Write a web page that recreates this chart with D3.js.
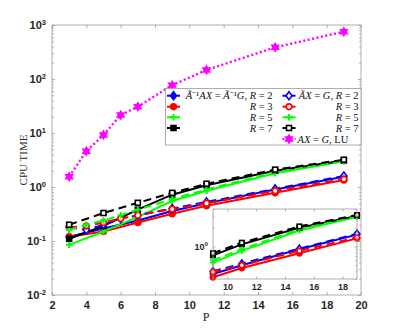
<!DOCTYPE html>
<html>
<head>
<meta charset="utf-8">
<script src="https://cdn.jsdelivr.net/npm/d3@7"></script>
<style>
  body { margin: 0; background: #fff; }
  svg { display: block; }
</style>
</head>
<body>
<script>
// values
var P = [3, 5, 7, 9, 11, 15, 19];
var Pdash = [3, 4, 5, 6, 7, 9, 11, 15, 19];
var Plu = [3, 4, 5, 6, 7, 9, 11, 15, 19];

// A^-1 A X = A^-1 G (solid)
var solidR2 = [0.12, 0.17, 0.24, 0.36, 0.5, 0.9, 1.55];
var solidR3 = [0.12, 0.15, 0.22, 0.32, 0.45, 0.78, 1.35];
var solidR5 = [0.085, 0.15, 0.28, 0.55, 0.85, 1.8, 3.0];
var solidR7 = [0.11, 0.19, 0.38, 0.72, 1.08, 2.0, 3.1];

// A X = G (dashed)
var dashR2 = [0.18, 0.16, 0.2, 0.26, 0.3, 0.4, 0.53, 0.92, 1.6];
var dashR3 = [0.18, 0.19, 0.22, 0.26, 0.3, 0.39, 0.5, 0.85, 1.4];
var dashR5 = [0.16, 0.2, 0.24, 0.3, 0.38, 0.6, 0.9, 1.9, 3.0];
var dashR7 = [0.2, 0.33, 0.51, 0.78, 1.15, 2.1, 3.2];

// LU
var luTime = [1.55, 4.6, 9.2, 21.5, 30.7, 77, 147, 386, 751];

var xTicks = [2, 4, 6, 8, 10, 12, 14, 16, 18, 20];
var yTicks = [1e-2, 1e-1, 1e0, 1e1, 1e2, 1e3];
var xTicksInset = [10, 12, 14, 16, 18];

var series = [
  { x: P, y: solidR2, color: "#0000ff", marker: "diamond", filled: true, dash: null },
  { x: P, y: solidR3, color: "#ff0000", marker: "circle", filled: true, dash: null },
  { x: P, y: solidR5, color: "#00ff00", marker: "plus", filled: true, dash: null },
  { x: P, y: solidR7, color: "#000000", marker: "square", filled: true, dash: null },
  { x: Pdash, y: dashR2, color: "#0000ff", marker: "diamond", filled: false, dash: "8,5" },
  { x: Pdash, y: dashR3, color: "#ff0000", marker: "circle", filled: false, dash: "8,5" },
  { x: Pdash, y: dashR5, color: "#00ff00", marker: "plus", filled: false, dash: "8,5" },
  { x: P, y: dashR7, color: "#000000", marker: "square", filled: false, dash: "8,5" },
  { x: Plu, y: luTime, color: "#ff00ff", marker: "hexagram", filled: true, dash: "2,2.5" }
];

var axisColor = "#9a9a9a";
var tickColor = "#262626";

var svg = d3.select("body").append("svg")
  .attr("width", 399)
  .attr("height", 332);

function hexagram(r) {
  var pts = [];
  for (var i = 0; i < 12; i++) {
    var a = Math.PI / 6 * i - Math.PI / 2;
    var rr = i % 2 ? r / Math.sqrt(3) : r;
    pts.push([rr * Math.cos(a), rr * Math.sin(a)]);
  }
  return "M" + pts.join("L") + "Z";
}

function drawMarker(g, s, cx, cy, sz) {
  var m = g.append("g").attr("transform", "translate(" + cx + "," + cy + ")");
  var fill = s.filled ? s.color : "#fff";
  if (s.marker === "diamond") {
    m.append("path").attr("d", "M0," + (-sz) + "L" + (sz * 0.75) + ",0L0," + sz + "L" + (-sz * 0.75) + ",0Z")
      .attr("fill", fill).attr("stroke", s.color).attr("stroke-width", 1.6);
  } else if (s.marker === "circle") {
    m.append("circle").attr("r", sz * 0.72)
      .attr("fill", fill).attr("stroke", s.color).attr("stroke-width", 1.8);
  } else if (s.marker === "square") {
    m.append("rect").attr("x", -sz * 0.62).attr("y", -sz * 0.62)
      .attr("width", sz * 1.24).attr("height", sz * 1.24)
      .attr("fill", fill).attr("stroke", s.color).attr("stroke-width", 1.6);
  } else if (s.marker === "plus") {
    m.append("path").attr("d", "M" + (-sz * 0.8) + ",0H" + (sz * 0.8) + "M0," + (-sz * 0.8) + "V" + (sz * 0.8))
      .attr("stroke", s.color).attr("stroke-width", 2);
  } else if (s.marker === "hexagram") {
    m.append("path").attr("d", hexagram(sz * 1.05))
      .attr("fill", s.color).attr("stroke", s.color).attr("stroke-width", 1.2);
  }
}

function supLabel(sel) {
  sel.each(function (d) {
    var t = d3.select(this);
    var e = Math.round(Math.log10(d));
    t.text("");
    t.append("tspan").text("10");
    t.append("tspan").attr("dy", "-0.55em").attr("font-size", "0.68em").text(e);
  });
}

// draw a panel (main axes or inset)
function panel(x, y, opts) {
  var x0 = x.range()[0], x1 = x.range()[1];
  var y0 = y.range()[1], y1 = y.range()[0];
  var g = svg.append("g");

  if (opts.background) {
    g.append("rect").attr("x", x0).attr("y", y0)
      .attr("width", x1 - x0).attr("height", y1 - y0).attr("fill", "#fff");
  }

  var clipId = "clip" + opts.id;
  svg.append("clipPath").attr("id", clipId).append("rect")
    .attr("x", x0 - 6).attr("y", y0 - 6).attr("width", x1 - x0 + 12).attr("height", y1 - y0 + 12);

  // minor log ticks
  var minors = [];
  var lo = Math.floor(Math.log10(y.domain()[0])), hi = Math.ceil(Math.log10(y.domain()[1]));
  for (var e = lo; e < hi; e++) {
    for (var k = 2; k <= 9; k++) {
      var v = k * Math.pow(10, e);
      if (v >= y.domain()[0] && v <= y.domain()[1]) minors.push(v);
    }
  }

  var bottom = g.append("g").attr("transform", "translate(0," + y1 + ")")
    .call(d3.axisBottom(x).tickValues(opts.xTicks).tickSizeInner(-opts.tick).tickSizeOuter(0).tickPadding(opts.pad));
  var top = g.append("g").attr("transform", "translate(0," + y0 + ")")
    .call(d3.axisTop(x).tickValues(opts.xTicks).tickSizeInner(-opts.tick).tickSizeOuter(0).tickFormat(""));
  var left = g.append("g").attr("transform", "translate(" + x0 + ",0)")
    .call(d3.axisLeft(y).tickValues(opts.yTicks).tickSizeInner(-opts.tick).tickSizeOuter(0).tickPadding(opts.pad));
  var right = g.append("g").attr("transform", "translate(" + x1 + ",0)")
    .call(d3.axisRight(y).tickValues(opts.yTicks).tickSizeInner(-opts.tick).tickSizeOuter(0).tickFormat(""));
  var leftMinor = g.append("g").attr("transform", "translate(" + x0 + ",0)")
    .call(d3.axisLeft(y).tickValues(minors).tickSizeInner(-opts.tick * 0.6).tickSizeOuter(0).tickFormat(""));
  var rightMinor = g.append("g").attr("transform", "translate(" + x1 + ",0)")
    .call(d3.axisRight(y).tickValues(minors).tickSizeInner(-opts.tick * 0.6).tickSizeOuter(0).tickFormat(""));

  [bottom, top, left, right, leftMinor, rightMinor].forEach(function (a) {
    a.select(".domain").remove();
    a.selectAll("line").attr("stroke", axisColor).attr("stroke-width", 0.8);
    a.selectAll("text")
      .attr("fill", tickColor)
      .attr("font-family", "Liberation Sans, Arial, sans-serif")
      .attr("font-weight", "bold")
      .attr("font-size", opts.font);
  });
  left.selectAll("text").call(supLabel);

  // lines and markers
  var plot = g.append("g").attr("clip-path", "url(#" + clipId + ")");
  series.forEach(function (s) {
    var pts = s.x.map(function (p, i) { return [p, s.y[i]]; })
      .filter(function (d) { return d[0] >= x.domain()[0] - 0.01 && d[0] <= x.domain()[1] + 0.01; });
    var line = d3.line().x(function (d) { return x(d[0]); }).y(function (d) { return y(d[1]); });
    plot.append("path").datum(pts)
      .attr("d", line)
      .attr("fill", "none")
      .attr("stroke", s.color)
      .attr("stroke-width", s.marker === "hexagram" ? 2.4 : 2)
      .attr("stroke-dasharray", s.dash);
    pts.forEach(function (d) {
      drawMarker(plot, s, x(d[0]), y(d[1]), opts.msize);
    });
  });

  // box
  g.append("rect").attr("x", x0).attr("y", y0)
    .attr("width", x1 - x0).attr("height", y1 - y0)
    .attr("fill", "none").attr("stroke", axisColor).attr("stroke-width", 0.8);
  return g;
}

var x = d3.scaleLinear().domain([2, 20]).range([52, 361]);
var y = d3.scaleLog().domain([1e-2, 1e3]).range([295, 25]);

panel(x, y, { id: "main", xTicks: xTicks, yTicks: yTicks, tick: 3, pad: 6, font: 11, msize: 4 });

// axis labels
svg.append("text")
  .attr("x", 206).attr("y", 321)
  .attr("text-anchor", "middle")
  .attr("font-family", "Liberation Serif, Times New Roman, serif")
  .attr("font-size", 12)
  .attr("fill", tickColor)
  .text("P");
svg.append("text")
  .attr("transform", "translate(27,160) rotate(-90)")
  .attr("text-anchor", "middle")
  .attr("font-family", "Liberation Serif, Times New Roman, serif")
  .attr("font-size", 11)
  .attr("fill", tickColor)
  .text("CPU TIME");

// legend
var leg = svg.append("g");
leg.append("rect").attr("x", 165.5).attr("y", 88.5).attr("width", 195.5).attr("height", 56.5)
  .attr("fill", "#fff").attr("stroke", axisColor).attr("stroke-width", 0.8);

var rowY = [95.7, 106.7, 117.3, 128, 139];
var legLabels = [
  [["A\u0303", "i"], ["\u207B\u00B9", ""], ["AX", "i"], [" = ", ""], ["A\u0303", "i"], ["\u207B\u00B9", ""], ["G", "i"], [", ", ""], ["R", "i"], [" = 2", ""]],
  [["R", "i"], [" = 3", ""]],
  [["R", "i"], [" = 5", ""]],
  [["R", "i"], [" = 7", ""]],
  [["A\u0303X", "i"], [" = ", ""], ["G", "i"], [", ", ""], ["R", "i"], [" = 2", ""]],
  [["R", "i"], [" = 3", ""]],
  [["R", "i"], [" = 5", ""]],
  [["R", "i"], [" = 7", ""]],
  [["AX", "i"], [" = ", ""], ["G", "i"], [", LU", ""]]
];

series.forEach(function (s, i) {
  var col = i < 4 ? 0 : 1;
  var row = i < 4 ? i : i - 4;
  var lx0 = col === 0 ? 167 : 282.5;
  var lx1 = col === 0 ? 180 : 295.5;
  var cy = rowY[row];
  leg.append("line").attr("x1", lx0).attr("x2", lx1).attr("y1", cy).attr("y2", cy)
    .attr("stroke", s.color).attr("stroke-width", 2)
    .attr("stroke-dasharray", s.marker === "hexagram" ? "2,2" : null);
  drawMarker(leg, s, (lx0 + lx1) / 2, cy, 4);
  var t = leg.append("text")
    .attr("y", cy + 3.5)
    .attr("font-family", "Liberation Serif, Times New Roman, serif")
    .attr("font-size", 10.5)
    .attr("fill", "#111");
  if (i === 8) {
    t.attr("x", 297.5).attr("text-anchor", "start");
  } else {
    t.attr("x", col === 0 ? 272.5 : 358.5).attr("text-anchor", "end");
  }
  legLabels[i].forEach(function (seg) {
    var ts = t.append("tspan").text(seg[0]).attr("font-style", seg[1] === "i" ? "italic" : "normal");
  });
});

// inset
var xi = d3.scaleLinear().domain([9, 19]).range([213, 357]);
var yi = d3.scaleLog().domain([0.3, 4]).range([279, 209]);
panel(xi, yi, { id: "inset", xTicks: xTicksInset, yTicks: [1], tick: 2.5, pad: 5, font: 9, msize: 3.6, background: true });
</script>
</body>
</html>
